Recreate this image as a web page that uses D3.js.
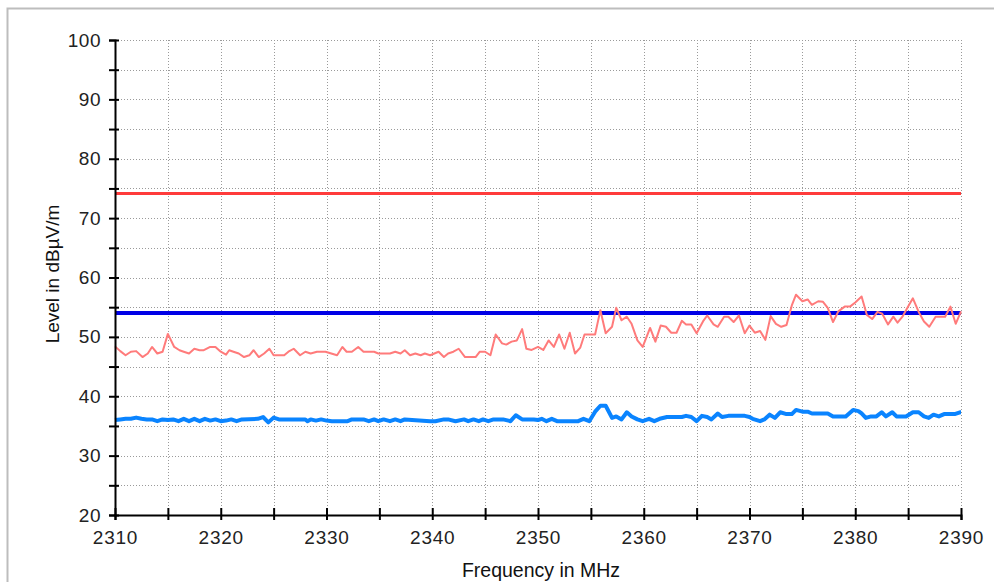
<!DOCTYPE html>
<html>
<head>
<meta charset="utf-8">
<script src="https://cdn.jsdelivr.net/npm/d3@7"></script>
<style>
  html, body { margin: 0; padding: 0; background: #fff; }
  svg { display: block; }
  text { font-family: "Liberation Sans", Arial, sans-serif; }
</style>
</head>
<body>
<svg id="chart" width="994" height="582"></svg>
<script>
// ---- Data ----
const xTicks = [2310, 2320, 2330, 2340, 2350, 2360, 2370, 2380, 2390];
const yTicks = [20, 30, 40, 50, 60, 70, 80, 90, 100];
const limitRed = 74;
const limitBlue = 54;

const redFreq = [2310.0,2310.5,2311.0,2311.5,2312.0,2312.6,2313.1,2313.5,2314.0,2314.5,2315.0,2315.6,2316.1,2316.5,2317.0,2317.5,2318.0,2318.4,2319.0,2319.5,
  2320.0,2320.5,2320.8,2321.2,2321.7,2322.2,2322.7,2323.1,2323.6,2324.1,2324.6,2325.0,2326.0,2326.4,2326.9,2327.5,2328.0,2328.5,2329.1,2329.9,
  2331.0,2331.5,2331.9,2332.4,2333.0,2333.5,2334.5,2334.9,2336.0,2336.5,2337.0,2337.4,2337.9,2338.4,2338.9,2339.3,2339.8,
  2340.6,2341.1,2341.5,2342.0,2342.5,2343.1,2344.1,2344.5,2345.0,2345.5,2346.0,2346.6,2347.0,2347.5,2348.0,2348.5,2348.9,2349.4,
  2350.0,2350.5,2351.0,2351.5,2352.0,2352.5,2353.0,2353.5,2354.0,2354.4,2355.4,2355.9,2356.4,2357.0,2357.4,2357.9,2358.4,2358.85,2359.4,2359.9,
  2360.6,2361.1,2361.6,2362.1,2362.6,2363.1,2363.6,2364.0,2364.5,2365.0,2365.6,2366.0,2366.6,2367.0,2367.6,2368.0,2368.5,2369.0,2369.55,
  2370.0,2370.5,2371.0,2371.5,2372.0,2372.5,2373.0,2373.5,2374.0,2374.4,2375.0,2375.5,2375.9,2376.5,2376.95,2377.4,2377.9,2378.4,2379.0,2379.5,
  2380.0,2380.6,2381.1,2381.6,2382.1,2382.55,2383.1,2383.6,2384.0,2384.5,2385.0,2385.45,2386.0,2386.5,2387.0,2387.6,2388.1,2388.5,2389.0,2389.5,2390.0];
const redLevel = [48.4,47.6,46.9,47.5,47.6,46.6,47.2,48.3,47.2,47.5,50.5,48.3,47.75,47.5,47.2,48.0,47.75,47.75,48.3,48.3,
  47.5,47.0,47.75,47.5,47.2,46.6,46.9,47.75,46.6,47.2,48.0,46.9,46.9,47.5,48.0,46.9,47.5,47.2,47.5,47.5,
  46.9,48.3,47.5,47.5,48.3,47.5,47.5,47.2,47.2,47.5,47.2,47.75,46.9,47.2,46.9,47.2,46.9,
  47.5,46.6,47.2,47.5,48.0,46.6,46.6,47.5,47.5,46.9,50.4,48.9,48.7,49.2,49.4,51.3,48.0,47.8,
  48.3,47.8,49.4,48.3,50.4,48.0,50.7,47.2,48.2,50.4,50.4,54.5,50.6,51.7,54.9,52.8,53.4,52.2,49.4,48.3,
  51.5,49.2,51.9,51.7,50.7,50.7,52.7,52.1,52.1,50.6,52.6,53.6,52.1,51.7,53.4,53.4,52.5,53.6,50.6,
  51.9,50.7,51.0,49.5,53.5,52.2,51.7,52.0,55.3,57.1,56.0,56.3,55.4,56.0,55.9,54.9,52.5,54.3,55.1,55.1,
  55.8,56.8,53.7,53.0,54.2,53.9,52.1,53.4,52.4,53.5,55.1,56.5,54.2,52.6,51.7,53.4,53.4,53.4,55.1,52.2,54.3];

const blueFreq = [2310.0,2310.5,2311.0,2311.5,2312.0,2312.5,2313.0,2313.5,2314.0,2314.5,2315.0,2315.5,2316.0,2316.5,2317.0,2317.5,2318.0,2318.5,2319.0,2319.5,
  2320.0,2320.5,2321.0,2321.5,2322.0,2323.5,2324.0,2324.5,2325.0,2325.5,2328.0,2328.2,2328.5,2329.0,2329.5,
  2330.0,2330.5,2332.0,2332.4,2333.5,2334.0,2334.5,2334.9,2335.4,2336.0,2336.5,2337.0,2337.4,2339.8,
  2340.3,2341.1,2341.5,2342.2,2343.0,2343.4,2343.9,2344.4,2344.8,2345.3,2345.8,2346.7,2347.4,2347.9,2348.5,2349.6,
  2350.0,2350.35,2350.8,2351.3,2351.8,2353.8,2354.3,2354.85,2355.4,2355.9,2356.4,2357.0,2357.4,2357.9,2358.4,2358.85,2359.4,2359.9,
  2360.5,2361.0,2361.5,2362.2,2363.1,2363.6,2364.0,2364.5,2365.0,2365.5,2366.0,2366.4,2367.0,2367.4,2368.0,2368.8,2369.55,
  2370.0,2370.3,2371.0,2371.4,2371.9,2372.4,2372.9,2373.5,2374.0,2374.4,2375.0,2375.5,2375.9,2377.4,2377.9,2379.1,2379.8,
  2380.3,2380.6,2381.0,2381.5,2382.0,2382.5,2382.9,2383.5,2383.9,2384.8,2385.45,2386.0,2386.5,2386.95,2387.4,2387.9,2388.4,2389.4,2389.9,2390.0];
const blueLevel = [36.0,36.1,36.2,36.2,36.4,36.2,36.1,36.1,35.8,36.1,36.0,36.1,35.8,36.2,35.8,36.2,35.8,36.2,35.9,36.1,
  35.8,35.9,36.1,35.8,36.1,36.2,36.5,35.6,36.4,36.1,36.1,35.8,36.1,35.9,36.1,
  35.9,35.8,35.8,36.1,36.1,35.8,36.1,35.8,36.1,35.8,36.1,35.8,36.1,35.8,
  35.8,36.1,36.1,35.8,36.1,35.8,36.1,35.8,36.1,35.8,36.1,36.1,35.8,36.8,36.1,36.1,
  36.0,36.2,35.8,36.2,35.8,35.8,36.2,35.8,37.4,38.4,38.4,36.35,36.6,36.1,37.3,36.6,36.1,35.8,
  36.2,35.8,36.2,36.5,36.5,36.5,36.7,36.5,35.8,36.7,36.5,36.1,37.1,36.5,36.7,36.7,36.7,
  36.5,36.2,35.8,36.1,36.9,36.35,37.3,37.0,37.0,37.7,37.4,37.4,37.1,37.1,36.6,36.6,37.7,
  37.5,37.1,36.35,36.6,36.6,37.3,36.6,37.3,36.6,36.6,37.3,37.3,36.6,36.35,36.9,36.6,37.0,37.0,37.3,37.3];

// ---- Layout ----
const svg = d3.select("#chart");
const x = d3.scaleLinear().domain([2310, 2390]).range([115, 961]);
const y = d3.scaleLinear().domain([20, 100]).range([515, 40]);

// outer frame
svg.append("rect").attr("x", 7.5).attr("y", 8.5).attr("width", 1100).attr("height", 700)
  .attr("fill", "#fff").attr("stroke", "#bdbdbd").attr("stroke-width", 2);

const gridStyle = g => g.attr("stroke", "#9a9a9a").attr("stroke-width", 1).attr("stroke-dasharray", "1,2");

// grid
const yGrid = d3.range(25, 101, 5);
const xGrid = d3.range(2315, 2391, 5);
svg.append("g").selectAll("line").data(yGrid).join("line")
  .attr("x1", x(2310)).attr("x2", x(2390))
  .attr("y1", d => Math.round(y(d)) + 0.5).attr("y2", d => Math.round(y(d)) + 0.5)
  .call(gridStyle);
svg.append("g").selectAll("line").data(xGrid).join("line")
  .attr("y1", y(100)).attr("y2", y(20))
  .attr("x1", d => Math.round(x(d)) + 0.5).attr("x2", d => Math.round(x(d)) + 0.5)
  .call(gridStyle);

// limit lines
svg.append("line").attr("x1", x(2310)).attr("x2", x(2390))
  .attr("y1", Math.round(y(limitRed)) - 0.5).attr("y2", Math.round(y(limitRed)) - 0.5)
  .attr("stroke", "#ff3b3b").attr("stroke-width", 3);
svg.append("line").attr("x1", x(2310)).attr("x2", x(2390))
  .attr("y1", Math.round(y(limitBlue))).attr("y2", Math.round(y(limitBlue)))
  .attr("stroke", "#0000e6").attr("stroke-width", 4);

// traces
const line = d3.line().x(d => x(d[0])).y(d => y(d[1]));
svg.append("path").datum(d3.zip(redFreq, redLevel))
  .attr("d", line).attr("fill", "none").attr("stroke", "#ff7b7b").attr("stroke-width", 2)
  .attr("stroke-linejoin", "round");
svg.append("path").datum(d3.zip(blueFreq, blueLevel))
  .attr("d", line).attr("fill", "none").attr("stroke", "#0a84ff").attr("stroke-width", 4)
  .attr("stroke-linejoin", "round");

// axes
const yAxis = d3.axisLeft(y).tickValues(d3.range(20, 101, 5)).tickSize(6).tickPadding(8)
  .tickFormat(d => yTicks.includes(d) ? d : "");
const gy = svg.append("g").attr("transform", `translate(${x(2310)},0)`).call(yAxis);
gy.select(".domain").attr("stroke", "#000").attr("stroke-width", 2);
gy.selectAll(".tick line").attr("x1", 4).attr("stroke", "#000").attr("stroke-width", 2);
gy.selectAll(".tick text").attr("font-size", 19).attr("fill", "#222").attr("letter-spacing", 0.5)
  .attr("font-family", "'Liberation Sans', Arial, sans-serif");

const xAxis = d3.axisBottom(x).tickValues(d3.range(2310, 2391, 5)).tickSize(5).tickPadding(11)
  .tickFormat(d => xTicks.includes(d) ? d : "");
const gx = svg.append("g").attr("transform", `translate(0,${y(20)})`).call(xAxis);
gx.select(".domain").attr("stroke", "#000").attr("stroke-width", 2);
gx.selectAll(".tick line").attr("y1", -7).attr("stroke", "#000").attr("stroke-width", 2);
gx.selectAll(".tick text").attr("font-size", 19).attr("fill", "#222").attr("letter-spacing", 0.8)
  .attr("font-family", "'Liberation Sans', Arial, sans-serif");

// axis titles
svg.append("text").attr("x", 541).attr("y", 577).attr("text-anchor", "middle")
  .attr("font-size", 19.5).attr("fill", "#111").text("Frequency in MHz");
svg.append("text").attr("transform", "translate(59,274) rotate(-90)").attr("text-anchor", "middle")
  .attr("font-size", 19).attr("fill", "#111").text("Level in dBµV/m");
</script>
</body>
</html>
